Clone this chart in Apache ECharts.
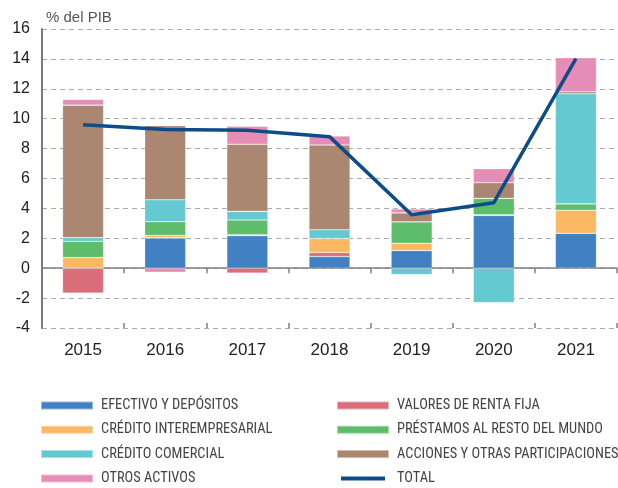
<!DOCTYPE html>
<html>
<head>
<meta charset="utf-8">
<script src="https://cdn.jsdelivr.net/npm/echarts@6/dist/echarts.min.js"></script>
<style>
  html, body { margin: 0; padding: 0; background: #fff; }
  #container { width: 618px; height: 488px; }
</style>
</head>
<body>
<div id="container"></div>
<script>
var years = ['2015', '2016', '2017', '2018', '2019', '2020', '2021'];

var efectivo = [0, 2.03, 2.17, 0.78, 1.18, 3.53, 2.34];
var valores = [-1.67, 0, -0.33, 0.27, 0, 0, 0];
var creditoInter = [0.71, 0.16, 0.07, 0.94, 0.49, 0.05, 1.54];
var prestamos = [1.09, 0.92, 0.98, 0, 1.43, 1.09, 0.42];
var creditoCom = [0.25, 1.47, 0.58, 0.58, -0.42, -2.3, 7.37];
var acciones = [8.86, 4.96, 4.49, 5.67, 0.6, 1.05, 0.13];
var otros = [0.38, -0.27, 1.2, 0.6, 0.27, 0.94, 2.28];
var total = [9.6, 9.27, 9.22, 8.8, 3.57, 4.38, 14.02];

var yTicks = [-4, 16, 2];

// pick a condensed font for the legend if one is installed
var ctx = document.createElement('canvas').getContext('2d');
function hasFont(name) {
    var s = 'ABCDEFGHIJKLMNOP abc';
    ctx.font = '20px monospace';
    var a = ctx.measureText(s).width;
    ctx.font = '20px "' + name + '", monospace';
    return ctx.measureText(s).width !== a;
}
var legendFont = 'Liberation Sans';
['Liberation Sans Narrow', 'Roboto Condensed', 'DejaVu Sans Condensed'].some(function (f) {
    if (hasFont(f)) { legendFont = f; return true; }
    return false;
});
ctx.font = '14px "' + legendFont + '"';
var refW = ctx.measureText('EFECTIVO Y DEPÓSITOS').width;
var legendSize = Math.round(14 * 137 / refW * 10) / 10;

var dom = document.getElementById('container');
var myChart = echarts.init(dom, null, { renderer: 'canvas' });

var font = '"Liberation Sans", Arial, sans-serif';

function bar(name, data, color) {
    return {
        name: name,
        type: 'bar',
        stack: 'a',
        barWidth: '50%',
        data: data,
        itemStyle: { color: color, borderColor: 'rgba(255,255,255,0.45)', borderWidth: 0.6 },
        z: 2
    };
}

var legendText = { fontSize: legendSize, lineHeight: 14, color: '#444', fontFamily: legendFont, padding: [0, 0, 0, 3] };
var thinIcon = 'path://M0,0L0.05,0L0.05,0.05Z M0,2L44,2L44,6L0,6Z M0,8L0.05,8L0.05,7.95Z';

var option = {
    animation: false,
    textStyle: { fontFamily: font },
    grid: { left: 42, right: 1, top: 29, bottom: 160 },
    title: {
        text: '% del PIB',
        left: 41,
        top: 5,
        textStyle: { fontSize: 15, fontWeight: 'normal', color: '#555', fontFamily: font }
    },
    legend: [
        {
            orient: 'vertical',
            left: 40,
            top: 398.5,
            padding: 0,
            itemWidth: 52,
            itemHeight: 8,
            itemGap: 10.3,
            icon: 'rect',
            textStyle: legendText,
            data: ['EFECTIVO Y DEPÓSITOS', 'CRÉDITO INTEREMPRESARIAL', 'CRÉDITO COMERCIAL', 'OTROS ACTIVOS']
        },
        {
            orient: 'vertical',
            left: 336,
            top: 398.5,
            padding: 0,
            itemWidth: 52,
            itemHeight: 8,
            itemGap: 10.3,
            textStyle: legendText,
            data: [
                { name: 'VALORES DE RENTA FIJA', icon: 'rect' },
                { name: 'PRÉSTAMOS AL RESTO DEL MUNDO', icon: 'rect' },
                { name: 'ACCIONES Y OTRAS PARTICIPACIONES', icon: 'rect' },
                { name: 'TOTAL', icon: thinIcon }
            ]
        }
    ],
    xAxis: [
        {
            type: 'category',
            data: years,
            position: 'bottom',
            axisLine: { onZero: false, show: false },
            axisTick: { show: false },
            axisLabel: { fontSize: 17, color: '#222', margin: 14 },
            splitLine: { show: false }
        },
        {
            type: 'category',
            data: years,
            position: 'bottom',
            axisLine: { onZero: true, lineStyle: { color: '#808080', width: 1.5 } },
            axisTick: { show: true, inside: false, length: 5, lineStyle: { color: '#808080', width: 1.5 } },
            axisLabel: { show: false },
            splitLine: { show: false }
        },
        {
            type: 'category',
            data: years,
            position: 'bottom',
            axisLine: { onZero: true, show: false },
            axisTick: { show: true, inside: true, length: 5, lineStyle: { color: '#808080', width: 1.5 } },
            axisLabel: { show: false },
            splitLine: { show: false }
        }
    ],
    yAxis: {
        type: 'value',
        min: yTicks[0],
        max: yTicks[1],
        interval: yTicks[2],
        axisLine: { show: true, lineStyle: { color: '#7a7a7a', width: 2 } },
        axisTick: { show: false },
        axisLabel: { fontSize: 16, color: '#222', margin: 12 },
        splitLine: { lineStyle: { color: '#aaa', type: [5, 4], width: 1 } }
    },
    series: [
        bar('EFECTIVO Y DEPÓSITOS', efectivo, '#4180c3'),
        bar('VALORES DE RENTA FIJA', valores, '#d96e7a'),
        bar('CRÉDITO INTEREMPRESARIAL', creditoInter, '#fbb862'),
        bar('PRÉSTAMOS AL RESTO DEL MUNDO', prestamos, '#5dbd6a'),
        bar('CRÉDITO COMERCIAL', creditoCom, '#64c9d1'),
        bar('ACCIONES Y OTRAS PARTICIPACIONES', acciones, '#ab8670'),
        bar('OTROS ACTIVOS', otros, '#e68db7'),
        {
            name: 'TOTAL',
            type: 'line',
            data: total,
            symbol: 'none',
            lineStyle: { color: '#0d4c87', width: 3.5 },
            itemStyle: { color: '#0d4c87' },
            z: 5
        }
    ]
};

if (option && typeof option === 'object') {
    myChart.setOption(option);
}

window.addEventListener('resize', myChart.resize);
</script>
</body>
</html>
